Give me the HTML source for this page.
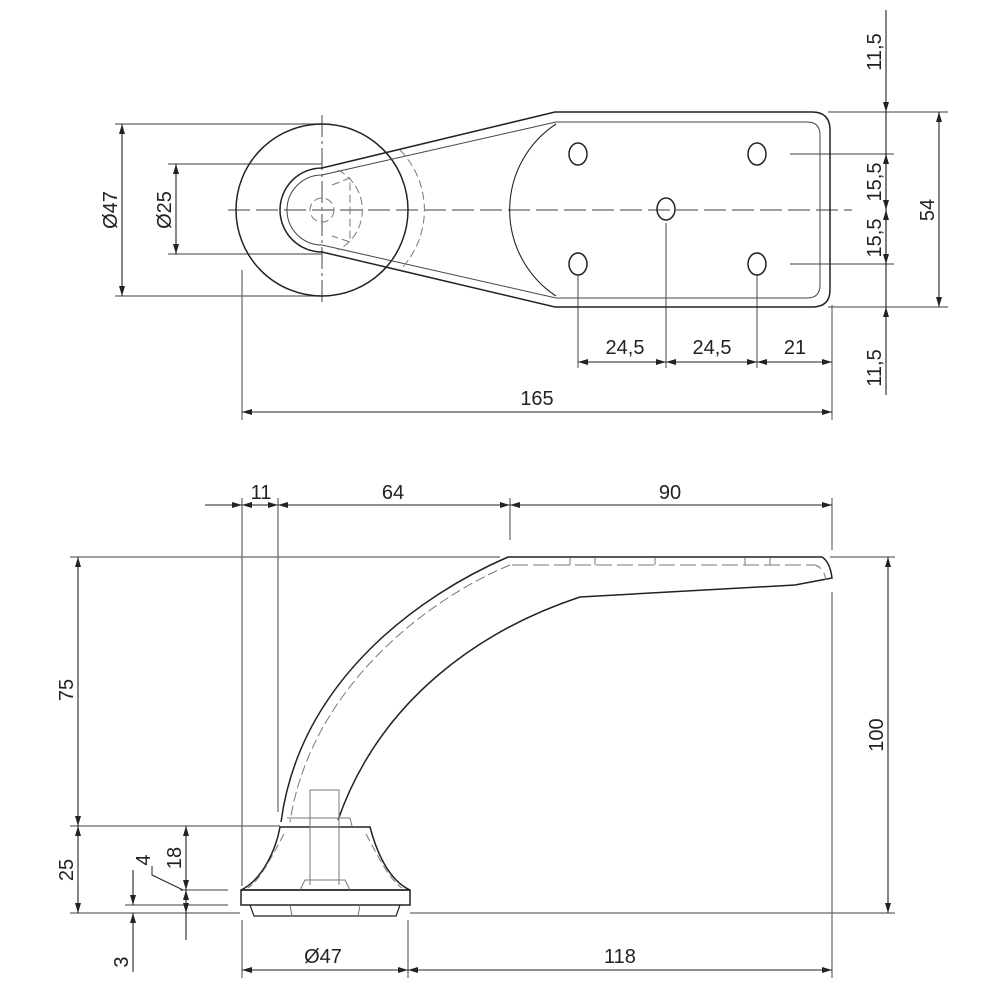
<!DOCTYPE html>
<html><head><meta charset="utf-8"><style>html,body{margin:0;padding:0;background:#fff}svg{display:block}</style></head>
<body>
<svg width="1000" height="1000" viewBox="0 0 1000 1000" xmlns="http://www.w3.org/2000/svg" font-family="Liberation Sans, sans-serif" font-size="20" fill="none">
<defs>
<marker id="a" viewBox="0 0 10 6" refX="10" refY="3" markerWidth="10" markerHeight="6" orient="auto-start-reverse" markerUnits="userSpaceOnUse"><path d="M0,0 L10,3 L0,6 Z" fill="#222"/></marker>
</defs>
<g stroke="#666" stroke-width="1.2">
<line x1="228" y1="210" x2="852" y2="210" stroke-dasharray="22,6"/>
<line x1="322" y1="115" x2="322" y2="305" stroke-dasharray="22,4,3,4"/>
<line x1="115" y1="124" x2="322" y2="124"/>
<line x1="115" y1="296" x2="322" y2="296"/>
<line x1="168" y1="164" x2="322" y2="164"/>
<line x1="168" y1="254" x2="322" y2="254"/>
<line x1="828" y1="112" x2="948" y2="112"/>
<line x1="828" y1="307" x2="948" y2="307"/>
<line x1="790" y1="154" x2="894" y2="154"/>
<line x1="790" y1="264" x2="894" y2="264"/>
<line x1="242" y1="270" x2="242" y2="420"/>
<line x1="832" y1="305" x2="832" y2="420"/>
<line x1="578" y1="275" x2="578" y2="368"/>
<line x1="757" y1="275" x2="757" y2="368"/>
<line x1="666" y1="223" x2="666" y2="368"/>
</g>
<g stroke="#222" stroke-width="1.1">
<line x1="122" y1="124" x2="122" y2="296" marker-start="url(#a)" marker-end="url(#a)"/>
<line x1="176" y1="164" x2="176" y2="254" marker-start="url(#a)" marker-end="url(#a)"/>
<line x1="939" y1="112" x2="939" y2="307" marker-start="url(#a)" marker-end="url(#a)"/>
<line x1="886" y1="10" x2="886" y2="112" marker-end="url(#a)"/>
<line x1="886" y1="112" x2="886" y2="307"/>
<line x1="886" y1="307" x2="886" y2="395" marker-start="url(#a)"/>
<line x1="886" y1="154" x2="886" y2="210" marker-start="url(#a)" marker-end="url(#a)"/>
<line x1="886" y1="210" x2="886" y2="264" marker-start="url(#a)" marker-end="url(#a)"/>
<line x1="578" y1="362" x2="666" y2="362" marker-start="url(#a)" marker-end="url(#a)"/>
<line x1="666" y1="362" x2="757" y2="362" marker-start="url(#a)" marker-end="url(#a)"/>
<line x1="757" y1="362" x2="832" y2="362" marker-start="url(#a)" marker-end="url(#a)"/>
<line x1="242" y1="412" x2="832" y2="412" marker-start="url(#a)" marker-end="url(#a)"/>
</g>
<g stroke="#222" stroke-width="1.5">
<circle cx="322" cy="210" r="86"/>
<path d="M555,112 L812,112 Q830,112 830,130 L830,290 Q830,307 812,307 L555,307 L322,252 A42,42 0 0 1 322,168 Z"/>
<path d="M556,122 L807,122 Q820,122 820,135 L820,285 Q820,298 807,298 L556,298 L322,245 A35,35 0 0 1 322,175 Z" stroke-width="1" stroke="#444"/>
<path d="M556,124 A103,103 0 0 0 556,296" stroke-width="1.1"/>
<ellipse cx="578" cy="154" rx="9" ry="11"/>
<ellipse cx="757" cy="154" rx="9" ry="11"/>
<ellipse cx="666" cy="209" rx="9" ry="11"/>
<ellipse cx="578" cy="264" rx="9" ry="11"/>
<ellipse cx="757" cy="264" rx="9" ry="11"/>
</g>
<g stroke="#777" stroke-width="1" stroke-dasharray="8,4">
<path d="M338,170 A45,45 0 0 1 338,250"/>
<path d="M332,185 L350,178 L350,242 L332,236"/>
<circle cx="322" cy="210" r="12"/>
<path d="M400,150 A86,86 0 0 1 400,270"/>
</g>
<g stroke="#666" stroke-width="1.2">
<line x1="70" y1="557" x2="500" y2="557"/>
<line x1="830" y1="557" x2="895" y2="557"/>
<line x1="70" y1="826" x2="280" y2="826"/>
<line x1="70" y1="913" x2="240" y2="913"/>
<line x1="410" y1="913" x2="895" y2="913"/>
<line x1="242" y1="498" x2="242" y2="886"/>
<line x1="278" y1="498" x2="278" y2="812"/>
<line x1="510" y1="498" x2="510" y2="540"/>
<line x1="832" y1="498" x2="832" y2="550"/>
<line x1="832" y1="592" x2="832" y2="978"/>
<line x1="242" y1="920" x2="242" y2="978"/>
<line x1="408" y1="920" x2="408" y2="978"/>
<line x1="180" y1="890" x2="228" y2="890"/>
<line x1="125" y1="905" x2="228" y2="905"/>
</g>
<g stroke="#222" stroke-width="1.1">
<line x1="78" y1="557" x2="78" y2="826" marker-start="url(#a)" marker-end="url(#a)"/>
<line x1="78" y1="826" x2="78" y2="913" marker-start="url(#a)" marker-end="url(#a)"/>
<line x1="888" y1="557" x2="888" y2="913" marker-start="url(#a)" marker-end="url(#a)"/>
<line x1="186" y1="826" x2="186" y2="890" marker-start="url(#a)" marker-end="url(#a)"/>
<line x1="186" y1="890" x2="186" y2="913" marker-start="url(#a)" marker-end="url(#a)"/>
<line x1="186" y1="913" x2="186" y2="940"/>
<line x1="133" y1="870" x2="133" y2="905" marker-end="url(#a)"/>
<line x1="133" y1="913" x2="133" y2="972" marker-start="url(#a)"/>
<path d="M152,866 L152,875 L183,890" stroke-width="1"/>
<line x1="205" y1="505" x2="242" y2="505" marker-end="url(#a)"/>
<line x1="242" y1="505" x2="278" y2="505" marker-start="url(#a)" marker-end="url(#a)"/>
<line x1="278" y1="505" x2="510" y2="505" marker-start="url(#a)" marker-end="url(#a)"/>
<line x1="510" y1="505" x2="832" y2="505" marker-start="url(#a)" marker-end="url(#a)"/>
<line x1="242" y1="970" x2="408" y2="970" marker-start="url(#a)" marker-end="url(#a)"/>
<line x1="408" y1="970" x2="832" y2="970" marker-start="url(#a)" marker-end="url(#a)"/>
</g>
<g stroke="#222" stroke-width="1.5">
<path d="M281,822 C300,680 420,595 508,557 L822,557 Q830,562 832,578 L795,585 L580,597 C480,630 380,700 338,820"/>
<path d="M241,890 C262,880 276,850 280,827 L370,827 C376,850 388,880 410,890 Z"/>
<rect x="241" y="890" width="169" height="15"/>
<path d="M250,905 L254,916 L396,916 L400,905" stroke-width="1.2"/>
</g>
<g stroke="#777" stroke-width="1">
<rect x="310" y="790" width="29" height="37"/>
<line x1="310" y1="827" x2="310" y2="885"/><line x1="339" y1="827" x2="339" y2="885"/>
<path d="M300,890 L305,880 L345,880 L350,890"/>
<line x1="290" y1="905" x2="292" y2="916"/><line x1="360" y1="905" x2="358" y2="916"/>
<path d="M287,818 L350,818 L352,826"/>
<path d="M510,565 C425,600 310,690 290,822" stroke-dasharray="10,4"/>
<path d="M512,565 L815,565 Q824,568 826,580" stroke-dasharray="16,5"/>
<path d="M570,558 L570,565 M595,558 L595,565 M655,558 L655,565 M745,558 L745,565 M770,558 L770,565"/>
<path d="M284,834 C270,860 260,880 248,888" stroke-dasharray="8,4"/>
<path d="M366,834 C380,860 390,880 402,888" stroke-dasharray="8,4"/>
</g>
<g fill="#222" stroke="none">
<text x="625" y="354" text-anchor="middle">24,5</text>
<text x="712" y="354" text-anchor="middle">24,5</text>
<text x="795" y="354" text-anchor="middle">21</text>
<text x="537" y="405" text-anchor="middle">165</text>
<text x="261" y="499" text-anchor="middle">11</text>
<text x="393" y="499" text-anchor="middle">64</text>
<text x="670" y="499" text-anchor="middle">90</text>
<text x="323" y="963" text-anchor="middle">Ø47</text>
<text x="620" y="963" text-anchor="middle">118</text>
<text transform="translate(117,210) rotate(-90)" text-anchor="middle">Ø47</text>
<text transform="translate(171,210) rotate(-90)" text-anchor="middle">Ø25</text>
<text transform="translate(881,52) rotate(-90)" text-anchor="middle">11,5</text>
<text transform="translate(881,182) rotate(-90)" text-anchor="middle">15,5</text>
<text transform="translate(881,238) rotate(-90)" text-anchor="middle">15,5</text>
<text transform="translate(881,368) rotate(-90)" text-anchor="middle">11,5</text>
<text transform="translate(934,210) rotate(-90)" text-anchor="middle">54</text>
<text transform="translate(73,690) rotate(-90)" text-anchor="middle">75</text>
<text transform="translate(73,870) rotate(-90)" text-anchor="middle">25</text>
<text transform="translate(883,735) rotate(-90)" text-anchor="middle">100</text>
<text transform="translate(181,858) rotate(-90)" text-anchor="middle">18</text>
<text transform="translate(150,860) rotate(-90)" text-anchor="middle">4</text>
<text transform="translate(128,962) rotate(-90)" text-anchor="middle">3</text>
</g>
</svg>
</body></html>
